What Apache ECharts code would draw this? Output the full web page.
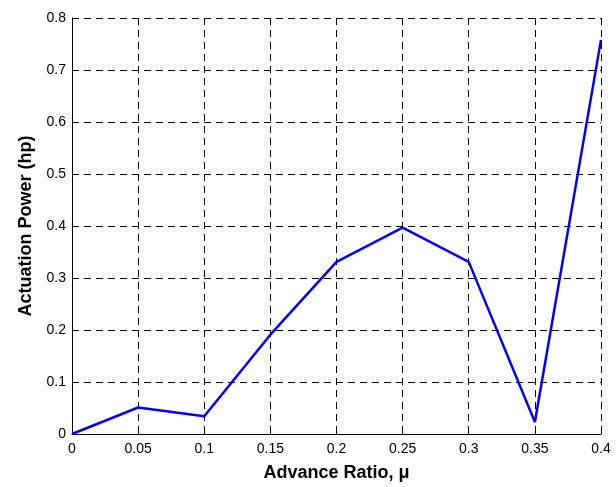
<!DOCTYPE html>
<html>
<head>
<meta charset="utf-8">
<script src="https://cdn.jsdelivr.net/npm/echarts@6/dist/echarts.min.js"></script>
<style>
  html, body { margin: 0; padding: 0; background: #fff; }
  #chart { width: 616px; height: 487px; }
</style>
</head>
<body>
<div id="chart"></div>
<script>
// Advance ratio samples and the actuation power at each one
const advanceRatio = [0, 0.05, 0.1, 0.15, 0.2, 0.25, 0.3, 0.35, 0.4];
const actuationPower = [0, 0.051, 0.034, 0.191, 0.331, 0.397, 0.331, 0.023, 0.758];

const xTitle = 'Advance Ratio, \u03bc';
const yTitle = 'Actuation Power (hp)';

const chart = echarts.init(document.getElementById('chart'));

const dashed = { type: [7, 5], color: '#000', width: 1 };

chart.setOption({
  animation: false,
  grid: { left: 72, right: 15, top: 18, bottom: 50, containLabel: false },
  xAxis: {
    type: 'value',
    min: 0, max: 0.4, interval: 0.05,
    name: xTitle,
    nameLocation: 'middle',
    nameGap: 30,
    nameTextStyle: { fontFamily: 'Liberation Sans', fontWeight: 'bold', fontSize: 18, color: '#000' },
    axisLine: { lineStyle: { color: '#000', width: 1 } },
    axisTick: { inside: true, length: 5, lineStyle: { color: '#000' } },
    axisLabel: { fontFamily: 'Liberation Sans', fontSize: 14, color: '#000', margin: 8,
      formatter: v => String(+v.toFixed(2)) },
    splitLine: { show: true, lineStyle: dashed }
  },
  yAxis: {
    type: 'value',
    min: 0, max: 0.8, interval: 0.1,
    name: yTitle,
    nameLocation: 'middle',
    nameGap: 37,
    nameTextStyle: { fontFamily: 'Liberation Sans', fontWeight: 'bold', fontSize: 18, color: '#000' },
    axisLine: { show: true, lineStyle: { color: '#000', width: 1 } },
    axisTick: { show: true, inside: true, length: 5, lineStyle: { color: '#000' } },
    axisLabel: { fontFamily: 'Liberation Sans', fontSize: 14, color: '#000', margin: 6,
      formatter: v => String(+v.toFixed(1)) },
    splitLine: { show: true, lineStyle: dashed }
  },
  series: [{
    type: 'line',
    data: advanceRatio.map((x, i) => [x, actuationPower[i]]),
    showSymbol: false,
    lineStyle: { color: '#0000ff', width: 2.5 },
    itemStyle: { color: '#0000ff' },
    z: 5
  }]
});
</script>
</body>
</html>
